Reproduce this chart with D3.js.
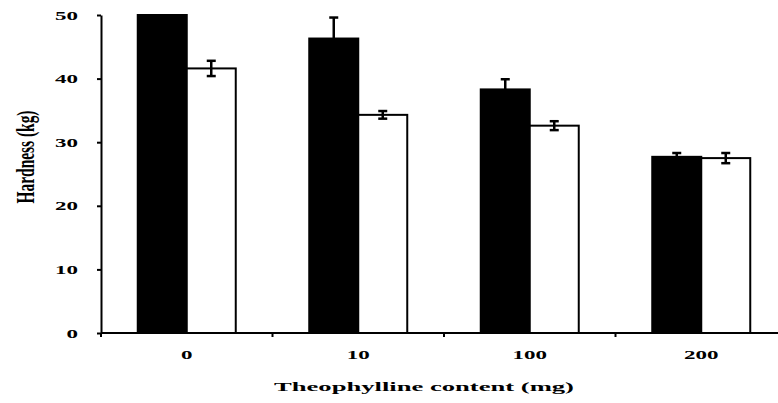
<!DOCTYPE html>
<html>
<head>
<meta charset="UTF-8">
<script src="https://cdn.jsdelivr.net/npm/d3@7"></script>
<style>
body { margin: 0; background: #fff; }
text { font-family: "Liberation Serif", "Times New Roman", serif; font-weight: bold; fill: #000; }
</style>
</head>
<body>
<svg width="778" height="403"></svg>
<script>
// data
const categories = ["0", "10", "100", "200"];
const series = ["A", "B"];            // black bars, white bars
const meansA = [50, 46.3, 38.3, 27.7];
const errA = [0, 3.3, 1.6, 0.6];
const meansB = [41.6, 34.3, 32.6, 27.5];
const errB = [1.2, 0.6, 0.7, 0.8];
const yTicks = [0, 10, 20, 30, 40, 50];

const svg = d3.select("svg");
const plotL = 101, plotR = 787, plotT = 15, plotB = 333;

const x0 = d3.scaleBand().domain(categories).range([plotL, plotR]).paddingInner(0).paddingOuter(0);
const x1 = d3.scaleBand().domain(series).range([0, x0.bandwidth()]).paddingInner(0).paddingOuter(0.75);
const y = d3.scaleLinear().domain([0, 50]).range([plotB, plotT]);

const rows = categories.map((c, i) => ({
  cat: c,
  vals: [
    { s: "A", v: meansA[i], e: errA[i] },
    { s: "B", v: meansB[i], e: errB[i] }
  ]
}));

const groups = svg.append("g").selectAll("g")
  .data(rows).join("g")
  .attr("transform", d => "translate(" + x0(d.cat) + ",0)");

groups.selectAll("rect")
  .data(d => d.vals).join("rect")
  .attr("x", d => x1(d.s))
  .attr("y", d => y(d.v))
  .attr("width", x1.bandwidth())
  .attr("height", d => y(0) - y(d.v))
  .attr("fill", d => d.s == "A" ? "#000" : "#fff")
  .attr("stroke", "#000")
  .attr("stroke-width", 2);

// error bars
const eb = groups.selectAll("g.err")
  .data(d => d.vals.filter(v => v.e > 0)).join("g")
  .attr("class", "err")
  .attr("stroke", "#000")
  .attr("stroke-width", 2.5);
eb.append("line")
  .attr("x1", d => x1(d.s) + x1.bandwidth() / 2)
  .attr("x2", d => x1(d.s) + x1.bandwidth() / 2)
  .attr("y1", d => y(d.v - d.e))
  .attr("y2", d => y(d.v + d.e));
[1, -1].forEach(sign => {
  eb.append("line")
    .attr("x1", d => x1(d.s) + x1.bandwidth() / 2 - 4.5)
    .attr("x2", d => x1(d.s) + x1.bandwidth() / 2 + 4.5)
    .attr("y1", d => y(d.v + sign * d.e))
    .attr("y2", d => y(d.v + sign * d.e));
});

// y axis
const yAxis = svg.append("g")
  .attr("transform", "translate(" + plotL + ",0)")
  .call(d3.axisLeft(y).tickValues(yTicks).tickSize(4).tickSizeOuter(0));
yAxis.select(".domain").attr("stroke-width", 2);
yAxis.selectAll(".tick line").attr("stroke-width", 2);
yAxis.selectAll(".tick text")
  .attr("font-size", 11.5)
  .attr("font-family", null)
  .attr("x", -11.5)
  .attr("dy", "0.36em")
  .attr("transform", "scale(2,1)");

// x axis: labels at band centres, ticks at band edges
const xAxis = svg.append("g")
  .attr("transform", "translate(0," + plotB + ")");
xAxis.append("line")
  .attr("x1", plotL).attr("x2", plotR)
  .attr("stroke", "#000").attr("stroke-width", 2);
xAxis.selectAll("line.tk")
  .data(categories).join("line")
  .attr("class", "tk")
  .attr("x1", d => x0(d)).attr("x2", d => x0(d))
  .attr("y1", 0).attr("y2", 4)
  .attr("stroke", "#000").attr("stroke-width", 2);
xAxis.selectAll("text")
  .data(categories).join("text")
  .attr("transform", d => "translate(" + (x0(d) + x0.bandwidth() / 2) + ",26) scale(2,1)")
  .attr("text-anchor", "middle")
  .attr("font-size", 11.5)
  .text(d => d);

// axis titles
svg.append("text")
  .attr("transform", "translate(424,391)")
  .attr("text-anchor", "middle")
  .attr("font-size", 13)
  .attr("textLength", 300)
  .attr("lengthAdjust", "spacingAndGlyphs")
  .text("Theophylline content (mg)");

svg.append("text")
  .attr("transform", "translate(34,157) rotate(-90) scale(1,2.1)")
  .attr("text-anchor", "middle")
  .attr("font-size", 12.5)
  .attr("textLength", 93)
  .attr("lengthAdjust", "spacingAndGlyphs")
  .text("Hardness (kg)");
</script>
</body>
</html>
